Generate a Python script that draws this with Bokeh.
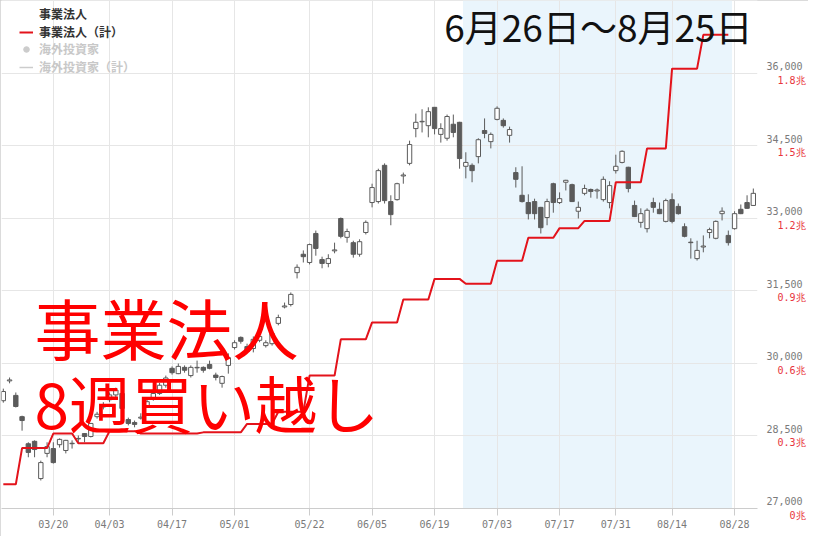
import pandas as pd
from bokeh.plotting import figure
from bokeh.models import (ColumnDataSource, Range1d, LinearAxis, FixedTicker,
                          BoxAnnotation, Label, Legend, LegendItem)
from bokeh.embed import file_html
from bokeh.resources import INLINE

# ---------------- data ----------------
START, END = "2023-03-08", "2023-08-31"
HOLIDAYS = ["2023-03-21", "2023-05-03", "2023-05-04", "2023-05-05", "2023-07-17", "2023-08-11"]

OPEN = [29230, 29640, 29340, 28900, 28340, 28390, 27620, 28140, 28240, 28320,
        28200, 28350, 28440, 28550, 28490, 28900, 29100, 29250, 29350, 29380,
        28840, 28780, 28870, 29110, 29280, 29380, 29550, 29900, 29790, 29920,
        29750, 29910, 29920, 29980, 29760, 29590, 29960, 30330, 30540, 30350,
        30310, 30480, 30370, 30410, 30830, 31170, 31220, 31880, 32260, 32090,
        32690, 32150, 32070, 32330, 33000, 32610, 32500, 32260, 32710, 33330,
        33350, 34100, 33350, 33390, 33880, 34140, 34860, 35000, 34920, 35300,
        34740, 34660, 34950, 34990, 34080, 34100, 34280, 34820, 34590, 35050,
        35030, 34720, 33950, 33480, 33330, 33350, 33230, 33020, 33720, 33330,
        33750, 33700, 33150, 33520, 33600, 33570, 33390, 33330, 33990, 34160,
        34060, 33270, 32920, 32790, 33330, 33190, 32940, 33390, 33250, 32830,
        32510, 32170, 32410, 32710, 32590, 33100, 32650, 32790, 33190, 33330,
        33270]
HIGH = [29480, 29710, 29400, 28920, 28370, 28410, 27990, 28370, 28370, 28450,
        28420, 28410, 28510, 28560, 28770, 29000, 29200, 29400, 29500, 29400,
        28880, 28820, 28970, 29300, 29440, 29600, 29750, 29940, 30000, 29960,
        29960, 30060, 29940, 30060, 29810, 29750, 30210, 30480, 30560, 30410,
        30560, 30600, 30480, 30660, 31010, 31260, 31470, 32050, 32340, 32480,
        32750, 32210, 32260, 32500, 33020, 32790, 32540, 32570, 32960, 33720,
        34030, 34140, 33480, 33740, 33950, 34610, 35170, 35260, 35300, 35300,
        34970, 35150, 35150, 35000, 34370, 34140, 34660, 35070, 34780, 35320,
        35070, 34900, 34060, 34080, 33500, 33410, 33240, 33410, 33740, 33540,
        33800, 33720, 33350, 33700, 33620, 33620, 33870, 33770, 34320, 34410,
        34070, 33370, 33210, 33210, 33430, 33330, 33410, 33520, 33310, 32900,
        32590, 32540, 32650, 32810, 32960, 33230, 32750, 33150, 33290, 33480,
        33620]
LOW = [29190, 29590, 29090, 28610, 28060, 28060, 27580, 28060, 27930, 28260,
       28140, 28240, 28340, 28370, 28470, 28860, 29050, 29200, 29300, 29040,
       28720, 28680, 28840, 29090, 29230, 29350, 29500, 29770, 29780, 29810,
       29710, 29810, 29810, 29880, 29650, 29500, 29790, 30290, 30410, 30230,
       30230, 30440, 30330, 30370, 30790, 31140, 31180, 31760, 32090, 32050,
       32230, 31970, 31990, 32280, 32590, 32500, 32190, 32210, 32670, 33230,
       33310, 33310, 32860, 33370, 33720, 34100, 34680, 34780, 34680, 34740,
       34570, 34610, 34680, 34030, 33830, 33750, 34140, 34660, 34450, 35030,
       34880, 34570, 33640, 33330, 32980, 32980, 32690, 32860, 33120, 33300,
       33580, 33340, 33000, 33480, 33430, 33410, 33350, 33210, 33930, 34140,
       33540, 33030, 32810, 32710, 33120, 33090, 32920, 32900, 33080, 32610,
       32170, 32130, 32300, 32590, 32570, 32960, 32440, 32770, 33090, 33200,
       33260]
CLOSE = [29420, 29660, 29110, 28820, 28160, 28220, 27950, 28280, 27950, 28430,
         28410, 28340, 28450, 28490, 28760, 28950, 29150, 29350, 29450, 29070,
         28760, 28740, 28890, 29210, 29380, 29550, 29700, 29810, 29940, 29860,
         29920, 29920, 29860, 29900, 29710, 29730, 30120, 30430, 30460, 30250,
         30500, 30560, 30430, 30620, 30950, 31190, 31430, 31990, 32210, 32460,
         32380, 32070, 32170, 32350, 32630, 32730, 32260, 32520, 32920, 33640,
         33990, 33370, 33080, 33720, 33900, 34530, 34990, 35010, 35210, 34860,
         34860, 35110, 34780, 34240, 34160, 33990, 34630, 34760, 34740, 35280,
         34920, 34840, 33810, 33350, 33100, 33100, 32810, 33350, 33330, 33410,
         33790, 33350, 33230, 33620, 33560, 33590, 33810, 33680, 34080, 34390,
         33620, 33040, 33100, 33170, 33230, 33100, 33370, 32940, 33100, 32630,
         32500, 32340, 32430, 32770, 32940, 33150, 32500, 33100, 33100, 33210,
         33520]

# 事業法人 cumulative net buying (兆円), one value per week (Mon..Fri), Mar 6 .. Aug 21
WEEKLY_CUM = [0.10, 0.25, 0.31, 0.27, 0.32, 0.31, 0.31, 0.315, 0.315, 0.35,
              0.40, 0.55, 0.70, 0.77, 0.865, 0.95, 0.93, 1.025, 1.12, 1.16,
              1.19, 1.35, 1.49, 1.82, 1.96]

TICK_DATES = ["2023-03-20", "2023-04-03", "2023-04-17", "2023-05-01", "2023-05-22",
              "2023-06-05", "2023-06-19", "2023-07-03", "2023-07-17", "2023-07-31",
              "2023-08-14", "2023-08-28"]
TICK_LABELS = ["03/20", "04/03", "04/17", "05/01", "05/22", "06/05", "06/19",
               "07/03", "07/17", "07/31", "08/14", "08/28"]

PRICE_TICKS = [27000, 28500, 30000, 31500, 33000, 34500, 36000]
CUM_TICKS = [0, 0.3, 0.6, 0.9, 1.2, 1.5, 1.8]
CUM_LABELS = ["0兆", "0.3兆", "0.6兆", "0.9兆", "1.2兆", "1.5兆", "1.8兆"]

SHADE_FROM, SHADE_TO = "2023-06-26", "2023-08-25"
TITLE = "6月26日～8月25日"
NOTE_1, NOTE_2 = "事業法人", "8週買い越し"

# ---------------- derived ----------------
dates = [d for d in pd.bdate_range(START, END) if d.strftime("%Y-%m-%d") not in HOLIDAYS]
idx = list(range(len(dates)))

def first_index_on_or_after(s):
    t = pd.Timestamp(s)
    return next(i for i, d in enumerate(dates) if d >= t)

tick_idx = [first_index_on_or_after(s) for s in TICK_DATES]

up = [c >= o for o, c in zip(OPEN, CLOSE)]
src = ColumnDataSource(dict(x=idx, o=OPEN, h=HIGH, l=LOW, c=CLOSE,
                            top=[max(o, c) for o, c in zip(OPEN, CLOSE)],
                            bot=[min(o, c) for o, c in zip(OPEN, CLOSE)]))
src_up = ColumnDataSource({k: [v for v, u in zip(src.data[k], up) if u] for k in src.data})
src_dn = ColumnDataSource({k: [v for v, u in zip(src.data[k], up) if not u] for k in src.data})

week_of = [d - pd.Timedelta(days=d.weekday()) for d in dates]
weeks = sorted(set(week_of))
cum_x, cum_y = [], []
for i, w in enumerate(week_of):
    k = weeks.index(w)
    if k < len(WEEKLY_CUM):
        cum_x.append(i)
        cum_y.append(WEEKLY_CUM[k])

PRICE_LO, PRICE_HI = 27000, 37510
CUM_PER_PRICE = 0.3 / 1500
NAN = float("nan")

# ---------------- figure ----------------
GRID = "#e6e6e6"
DARK = "#5b5b5b"
RED = "#e3131b"

p = figure(width=808, height=536, output_backend="svg", toolbar_location=None,
           x_range=Range1d(-0.29, 120.67), y_range=Range1d(PRICE_LO, PRICE_HI),
           y_axis_location="right",
           min_border_left=1, min_border_right=48, min_border_top=0, min_border_bottom=28)
p.outline_line_color = None
p.background_fill_color = "white"
p.border_fill_color = "white"
p.styles = {"outline": "1px solid #cfcfcf", "outline-offset": "-1px"}

p.extra_y_ranges = {"cum": Range1d((PRICE_LO - 27000) * CUM_PER_PRICE,
                                   (PRICE_HI - 27000) * CUM_PER_PRICE)}

# shaded period
p.add_layout(BoxAnnotation(left=first_index_on_or_after(SHADE_FROM) - 0.45,
                           right=first_index_on_or_after(SHADE_TO) + 0.6,
                           fill_color="#eaf5fc", fill_alpha=1.0, line_color=None,
                           level="image"))

# grids
p.xgrid.ticker = FixedTicker(ticks=tick_idx)
p.ygrid.ticker = FixedTicker(ticks=PRICE_TICKS)
for g in (p.xgrid[0], p.ygrid[0]):
    g.grid_line_color = GRID
    g.grid_line_width = 1

# x axis
xa = p.xaxis[0]
xa.ticker = FixedTicker(ticks=tick_idx)
xa.major_label_overrides = {i: lab for i, lab in zip(tick_idx, TICK_LABELS)}
xa.axis_line_color = "#cccccc"
xa.major_tick_line_color = "#cccccc"
xa.major_tick_out = 7
xa.major_tick_in = 0
xa.minor_tick_line_color = None
xa.major_label_standoff = 3
xa.major_label_text_font = "DejaVu Sans Mono"
xa.major_label_text_font_size = "10px"
xa.major_label_text_color = "#7a7a7a"

# price axis (right)
ya = p.yaxis[0]
ya.ticker = FixedTicker(ticks=PRICE_TICKS)
ya.major_label_overrides = {t: f"{t:,}\n\u00a0" for t in PRICE_TICKS}
ya.axis_line_color = None
ya.major_tick_line_color = None
ya.minor_tick_line_color = None
ya.major_tick_out = 0
ya.major_tick_in = 0
ya.minor_tick_out = 0
ya.major_label_standoff = 9
ya.major_label_text_font = "DejaVu Sans Mono"
ya.major_label_text_font_size = "10px"
ya.major_label_text_color = "#7a7a7a"

# cumulative axis (right, red labels under price labels)
width_chars = max(len(s) for s in CUM_LABELS)
ra = LinearAxis(y_range_name="cum", ticker=FixedTicker(ticks=CUM_TICKS))
ra.major_label_overrides = {t: "\u00a0\n" + s.rjust(width_chars, "\u00a0")
                            for t, s in zip(CUM_TICKS, CUM_LABELS)}
ra.axis_line_color = None
ra.major_tick_line_color = None
ra.minor_tick_line_color = None
ra.major_tick_out = 0
ra.major_tick_in = 0
ra.minor_tick_out = 0
ra.major_label_standoff = -28
ra.major_label_text_font = "DejaVu Sans Mono"
ra.major_label_text_font_size = "10px"
ra.major_label_text_color = "#e8343c"
p.add_layout(ra, "right")

# candles
p.segment(x0="x", y0="l", x1="x", y1="h", source=src, line_color=DARK, line_width=1)
p.vbar(x="x", top="top", bottom="bot", width=0.7, source=src_up,
       fill_color="white", line_color=DARK, line_width=1)
p.vbar(x="x", top="top", bottom="bot", width=0.7, source=src_dn,
       fill_color=DARK, line_color=DARK, line_width=1)

# cumulative line
cum_r = p.line(cum_x, cum_y, y_range_name="cum", line_color=RED, line_width=2)

# legend-only renderers (series switched off in the original chart)
dummy = p.line(x=[NAN], y=[NAN], line_alpha=0)
fs_pt = p.scatter(x=[NAN], y=[NAN], size=10, fill_color="#cccccc", line_color="#cccccc")
fs_ln = p.line(x=[NAN], y=[NAN], line_color="#cccccc", line_width=1.5)

common = dict(orientation="vertical", background_fill_alpha=0, border_line_color=None,
              label_text_font="Noto Sans CJK JP", label_text_font_size="12px",
              label_text_font_style="bold", glyph_width=14, glyph_height=14,
              label_height=14, spacing=1, padding=0, margin=0, label_standoff=6)
leg1 = Legend(items=[LegendItem(label="事業法人", renderers=[dummy]),
                     LegendItem(label="事業法人（計）", renderers=[cum_r])],
              location=(18, 468), label_text_color="#333333", **common)
leg2 = Legend(items=[LegendItem(label="海外投資家", renderers=[fs_pt]),
                     LegendItem(label="海外投資家（計）", renderers=[fs_ln])],
              location=(18, 433), label_text_color="#c8c8c8", **common)
p.add_layout(leg1)
p.add_layout(leg2)

# annotations
p.add_layout(Label(x=751, y=483, x_units="screen", y_units="screen", text=TITLE,
                   text_align="right", text_baseline="middle", text_font="Noto Sans CJK JP",
                   text_font_size="37px", text_color="#111111"))
p.add_layout(Label(x=33, y=183, x_units="screen", y_units="screen", text=NOTE_1,
                   text_align="left", text_baseline="middle", text_font="Noto Sans CJK JP",
                   text_font_size="66px", text_color="#ff0000"))
p.add_layout(Label(x=33, y=107, x_units="screen", y_units="screen", text=NOTE_2,
                   text_align="left", text_baseline="middle", text_font="Noto Sans CJK JP",
                   text_font_size="62px", text_color="#ff0000"))

open("out.html", "w").write(file_html(p, INLINE))
